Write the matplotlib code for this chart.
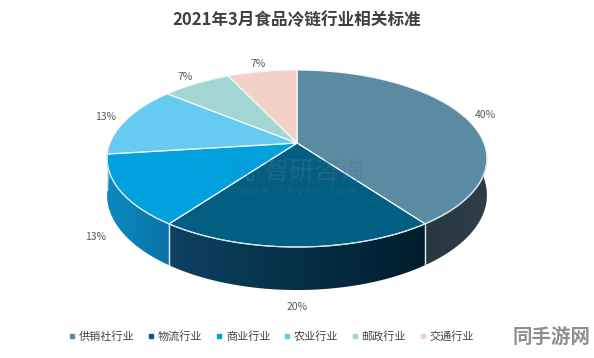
import matplotlib.pyplot as plt
import matplotlib.colors as mcolors
import numpy as np
from matplotlib.patches import Polygon
from matplotlib.lines import Line2D

plt.rcParams['font.family'] = ['Noto Sans CJK SC', 'DejaVu Sans']

title = '2021年3月食品冷链行业相关标准'
categories = ['供销社行业', '物流行业', '商业行业', '农业行业', '邮政行业', '交通行业']
shares = [40, 20, 13, 13, 7, 7]
labels = ['40%', '20%', '13%', '13%', '7%', '7%']

top_colors = ['#5b8ba3', '#035f82', '#00a1dd', '#67caf0', '#a3d6d3', '#f2d1c8']
# side colours: (colour at left end, colour at right end)
side_colors = [('#283843', '#2d3e4a'), ('#0d4262', '#001d2c'),
               ('#0b8ac0', '#0a72a6'), ('#3aa9d6', '#2f95c4'),
               ('#7fb7b4', '#74aca9'), ('#d8b3aa', '#d0aaa0')]

# perspective pie geometry (pixels)
cx, cy = 297, 143
A, B, k, D0 = 187, 85.8, 0.175, 35.5


def proj(theta, r=1.0, drop=0.0):
    u = r * np.sin(theta)
    v = r * np.cos(theta)
    w = 1 + k * v
    return cx + A * u / w, cy + (-B * v + drop) / w


fig = plt.figure(figsize=(5.94, 3.58), dpi=100)
ax = fig.add_axes([0, 0, 1, 1])
ax.axis('off')

vals = np.array(shares, dtype=float)
edges = np.concatenate([[0], np.cumsum(vals) / vals.sum() * 2 * np.pi])

# outer sides (only the front half is visible), horizontal gradient
for i in range(len(vals)):
    a0, a1 = max(edges[i], np.pi / 2), min(edges[i + 1], 1.5 * np.pi)
    if a1 <= a0:
        continue
    t = np.linspace(a0, a1, 80)
    xt, yt = proj(t)
    xb, yb = proj(t[::-1], drop=D0)
    poly = Polygon(np.column_stack([np.r_[xt, xb], np.r_[yt, yb]]),
                   closed=True, fc='none', ec='none')
    ax.add_patch(poly)
    xmin, xmax = min(xt.min(), xb.min()), max(xt.max(), xb.max())
    ymin, ymax = min(yt.min(), yb.min()), max(yt.max(), yb.max())
    cl = np.array(mcolors.to_rgb(side_colors[i][0]))
    cr = np.array(mcolors.to_rgb(side_colors[i][1]))
    f = np.linspace(0, 1, 100)[None, :, None]
    grad = cl * (1 - f) + cr * f
    im = ax.imshow(grad, extent=(xmin - 1, xmax + 1, ymax + 1, ymin - 1),
                   aspect='auto', interpolation='bilinear', zorder=2)
    im.set_clip_path(poly)
    # light separators on the side
    for a in (edges[i], edges[i + 1]):
        if np.pi / 2 < a < 1.5 * np.pi:
            x0, y0 = proj(a)
            x1, y1 = proj(a, drop=D0)
            ax.plot([x0, x1], [y0, y1], color='#dde8ee', lw=0.9, zorder=3)

# top faces
for i in range(len(vals)):
    t = np.linspace(edges[i], edges[i + 1], 120)
    xs, ys = proj(t)
    ax.add_patch(Polygon(np.column_stack([np.r_[cx, xs], np.r_[cy, ys]]),
                         closed=True, fc=top_colors[i], ec='#f4f8fa', lw=0.9,
                         zorder=4))

# light rim along the front of the top face
t = np.linspace(np.pi / 2 + 0.05, 1.5 * np.pi - 0.05, 200)
xs, ys = proj(t)
ax.plot(xs, ys, color='#cfe3ec', lw=0.8, zorder=5)

# percentage labels
for i in range(len(vals)):
    mid = (edges[i] + edges[i + 1]) / 2
    front = np.cos(mid) < 0
    x, y = proj(mid, r=1.125, drop=D0 if front else 0)
    ax.text(x, y, labels[i], ha='center', va='center', fontsize=7.5,
            color='#595959', zorder=6)

# watermark
ax.text(314, 172, '智研咨询', ha='center', va='center', fontsize=18,
        color='#4f7590', alpha=0.35, zorder=7)
ax.text(242, 172, '凡', ha='center', va='center', fontsize=18,
        color='#3d7fc0', alpha=0.35, zorder=7)
ax.text(298, 192, 'w  w  w  .  c  h  y  x  x  .  c  o  m', ha='center',
        va='center', fontsize=6.5, color='#4f7590', alpha=0.35, zorder=7)

ax.text(297, 20, title, ha='center', va='center', fontsize=12,
        fontweight='bold', color='#404040')

handles = [Line2D([], [], marker='s', ls='', markersize=3.5, color=c)
           for c in top_colors]
fig.legend(handles, categories, loc='center left',
           bbox_to_anchor=(58 / 594, 1 - 336 / 358),
           ncol=6, frameon=False, fontsize=8, handletextpad=0.2,
           columnspacing=1.1, labelcolor='#404040', handlelength=0.8)

ax.text(552, 338, '同手游网', ha='center', va='center', fontsize=14,
        fontweight='bold', color='#8e8e8e', zorder=8,
        bbox=dict(fc='white', ec='none', pad=1))

ax.set_xlim(0, 594)
ax.set_ylim(358, 0)
fig.savefig('out.png', dpi=100)
